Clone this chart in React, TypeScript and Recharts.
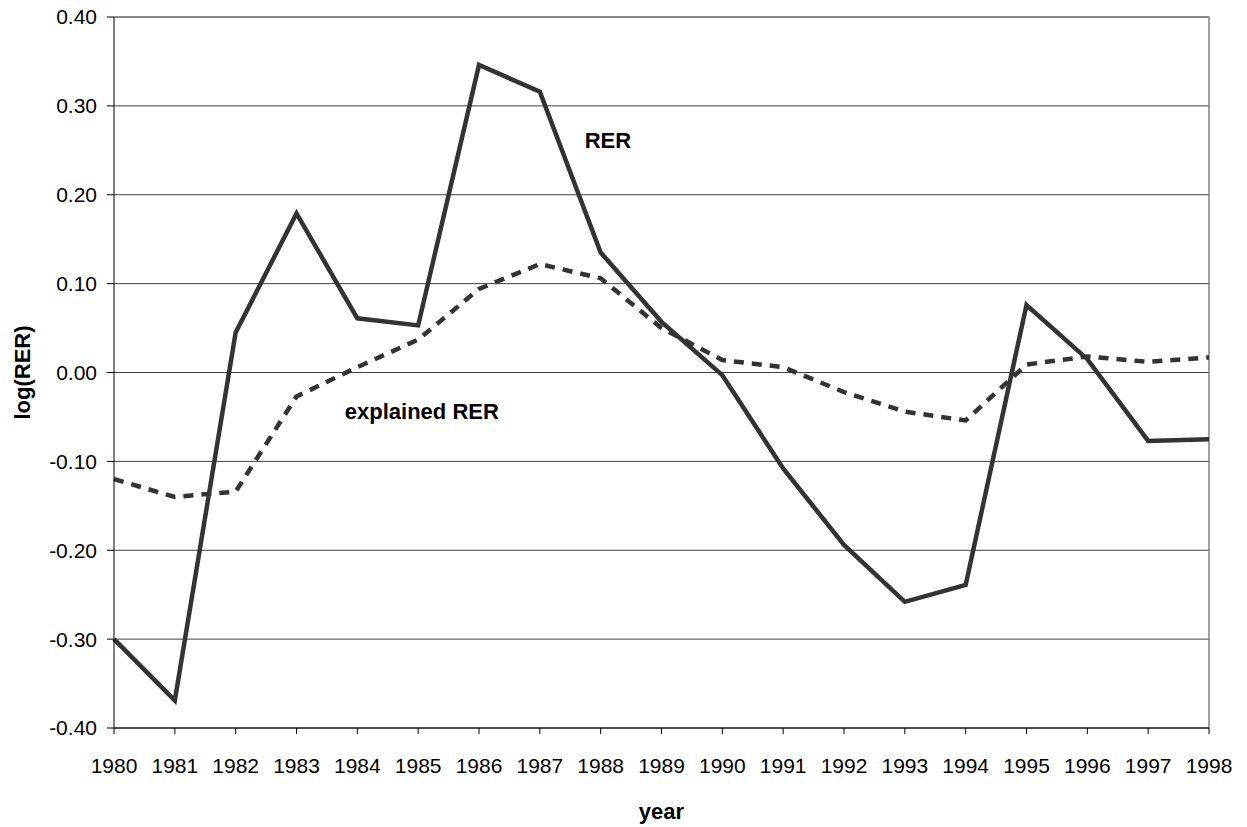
import { LineChart, Line, XAxis, YAxis, CartesianGrid, ReferenceLine, ReferenceDot } from 'recharts';

const years = [1980, 1981, 1982, 1983, 1984, 1985, 1986, 1987, 1988, 1989, 1990, 1991, 1992, 1993, 1994, 1995, 1996, 1997, 1998];
const rer = [-0.3, -0.369, 0.045, 0.179, 0.061, 0.053, 0.346, 0.316, 0.135, 0.057, -0.003, -0.108, -0.194, -0.258, -0.239, 0.076, 0.015, -0.077, -0.075];
const explainedRer = [-0.12, -0.14, -0.134, -0.027, 0.006, 0.037, 0.094, 0.122, 0.106, 0.05, 0.014, 0.006, -0.022, -0.044, -0.054, 0.009, 0.018, 0.012, 0.017];
const yTicks = [-0.4, -0.3, -0.2, -0.1, 0, 0.1, 0.2, 0.3, 0.4];

const data = years.map((year, i) => ({ year, rer: rer[i], explained: explainedRer[i] }));

const font = 'Arial, "Liberation Sans", sans-serif';

export default function App() {
  return (
    <div style={{ position: 'absolute', left: 0, top: 0, width: 1247, height: 827, background: '#fff' }}>
      <LineChart width={1247} height={827} data={data} margin={{ top: 17, right: 38, bottom: 0, left: 0 }}>
        <CartesianGrid vertical={false} stroke="#404040" strokeWidth={1} />
        <XAxis
          dataKey="year"
          type="number"
          domain={[1980, 1998]}
          ticks={years}
          interval={0}
          tickSize={6}
          tickMargin={24}
          axisLine={{ stroke: '#000' }}
          tickLine={{ stroke: '#000' }}
          tick={{ fill: '#000', fontSize: 21, fontFamily: font }}
          height={99}
          label={{ value: 'year', position: 'insideBottom', offset: 8, fill: '#000', fontSize: 22, fontWeight: 'bold', fontFamily: font }}
        />
        <YAxis
          type="number"
          domain={[-0.4, 0.4]}
          ticks={yTicks}
          interval={0}
          width={114}
          tickSize={7}
          tickMargin={10}
          tickFormatter={(v: number) => v.toFixed(2)}
          axisLine={{ stroke: '#000' }}
          tickLine={{ stroke: '#000' }}
          tick={{ fill: '#000', fontSize: 21, fontFamily: font }}
          label={{ value: 'log(RER)', angle: -90, position: 'insideLeft', offset: 22, fill: '#000', fontSize: 22, fontWeight: 'bold', fontFamily: font, style: { textAnchor: 'middle' } }}
        />
        <ReferenceLine y={0.4} stroke="#808080" strokeWidth={1.5} />
        <ReferenceLine x={1998} stroke="#808080" strokeWidth={1.5} />
        <Line
          type="linear"
          dataKey="explained"
          stroke="#333"
          strokeWidth={4.5}
          strokeDasharray="10 8"
          dot={false}
          isAnimationActive={false}
        />
        <Line
          type="linear"
          dataKey="rer"
          stroke="#333"
          strokeWidth={4.5}
          dot={false}
          isAnimationActive={false}
        />
        <ReferenceDot
          x={1988.12}
          y={0.261}
          r={0}
          label={{ value: 'RER', position: 'center', fill: '#000', fontSize: 22, fontWeight: 'bold', fontFamily: font }}
        />
        <ReferenceDot
          x={1985.06}
          y={-0.044}
          r={0}
          label={{ value: 'explained RER', position: 'center', fill: '#000', fontSize: 22, fontWeight: 'bold', fontFamily: font }}
        />
      </LineChart>
    </div>
  );
}
